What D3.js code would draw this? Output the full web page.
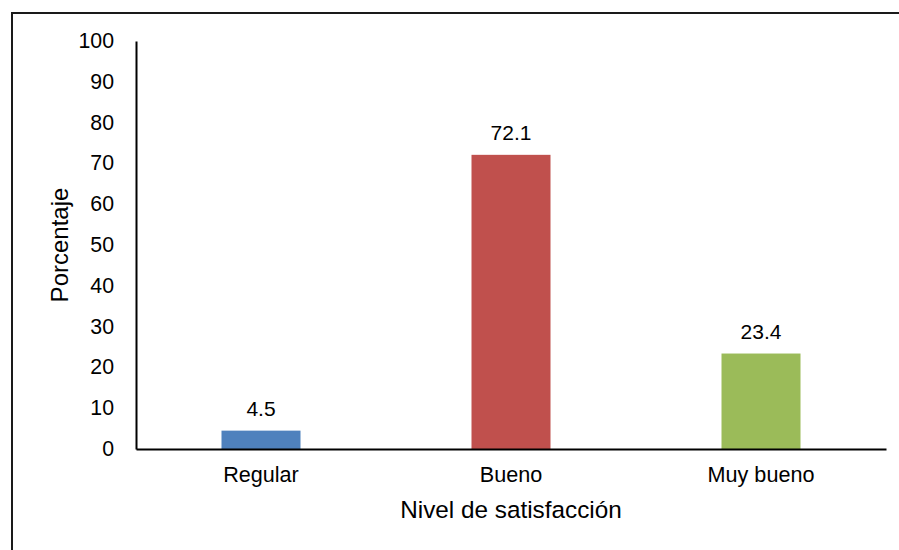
<!DOCTYPE html>
<html>
<head>
<meta charset="utf-8">
<script src="https://cdn.jsdelivr.net/npm/d3@7"></script>
<style>
  html, body { margin: 0; padding: 0; background: #fff; }
  svg { display: block; font-family: "Liberation Sans", Arial, sans-serif; }
</style>
</head>
<body>
<svg id="chart" width="899" height="550"></svg>
<script>
const categories = ["Regular", "Bueno", "Muy bueno"];
const values = [4.5, 72.1, 23.4];
const colors = ["#4F81BD", "#C0504D", "#9BBB59"];
const yTicks = [0, 10, 20, 30, 40, 50, 60, 70, 80, 90, 100];
const xTitle = "Nivel de satisfacción";
const yTitle = "Porcentaje";

const svg = d3.select("#chart");

// outer frame
svg.append("path")
  .attr("d", "M12,551 L12,13 L900,13")
  .attr("fill", "none")
  .attr("stroke", "#1a1a1a")
  .attr("stroke-width", 2);

const x0 = 136, x1 = 886, yTop = 41, yBot = 449;

const x = d3.scaleBand().domain(categories).range([x0, x1])
  .paddingInner(0.684).paddingOuter(0.342);
const y = d3.scaleLinear().domain([0, 100]).range([yBot, yTop]);

// bars
svg.append("g").selectAll("rect")
  .data(categories)
  .join("rect")
  .attr("x", d => x(d))
  .attr("width", x.bandwidth())
  .attr("y", (d, i) => y(values[i]))
  .attr("height", (d, i) => y(0) - y(values[i]))
  .attr("fill", (d, i) => colors[i]);

// value labels
svg.append("g").selectAll("text")
  .data(categories)
  .join("text")
  .attr("x", d => x(d) + x.bandwidth() / 2)
  .attr("y", (d, i) => y(values[i]) - 15)
  .attr("text-anchor", "middle")
  .attr("font-size", 21)
  .attr("fill", "#000")
  .text((d, i) => values[i].toFixed(1));

// y axis
const yAxis = svg.append("g")
  .attr("transform", `translate(${x0},0)`)
  .call(d3.axisLeft(y).tickValues(yTicks).tickSize(0).tickPadding(22).tickFormat(d3.format("d")));
yAxis.select(".domain").attr("stroke", "#000").attr("stroke-width", 2);
yAxis.selectAll("text")
  .attr("font-size", 21.3)
  .attr("font-family", "Liberation Sans, Arial, sans-serif")
  .attr("fill", "#000")
  .attr("dy", 6.5);

// x axis
const xAxis = svg.append("g")
  .attr("transform", `translate(0,${yBot})`)
  .call(d3.axisBottom(x).tickSize(0).tickPadding(18));
xAxis.select(".domain").attr("stroke", "#000").attr("stroke-width", 2);
xAxis.selectAll("text")
  .attr("font-size", 21.6)
  .attr("font-family", "Liberation Sans, Arial, sans-serif")
  .attr("fill", "#000");

// axis titles
svg.append("text")
  .attr("x", (x0 + x1) / 2)
  .attr("y", 518)
  .attr("text-anchor", "middle")
  .attr("font-size", 24.3)
  .attr("fill", "#000")
  .text(xTitle);

svg.append("text")
  .attr("transform", `translate(68,${(yTop + yBot) / 2}) rotate(-90)`)
  .attr("text-anchor", "middle")
  .attr("font-size", 24)
  .attr("fill", "#000")
  .text(yTitle);
</script>
</body>
</html>
